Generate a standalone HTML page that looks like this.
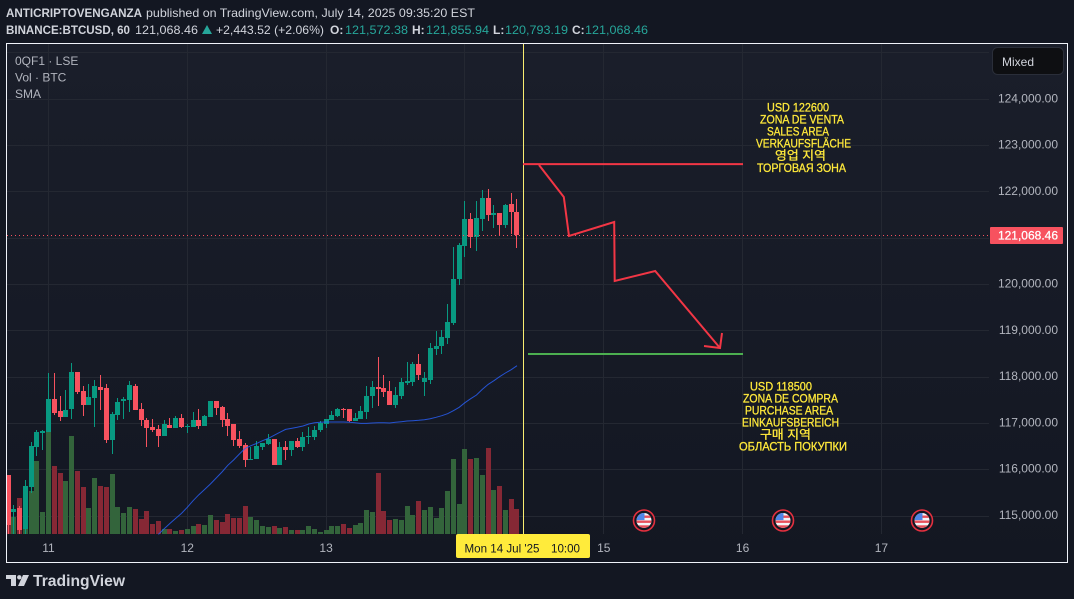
<!DOCTYPE html>
<html lang="en">
<head>
<meta charset="utf-8">
<title>BTCUSD chart</title>
<style>
html,body{margin:0;padding:0;background:#131722;width:1074px;height:599px;overflow:hidden}
svg{display:block}
text{font-family:"Liberation Sans","Noto Sans CJK KR",sans-serif;font-size:12px}
.hd{fill:#d1d4dc}
.tl{fill:#26a69a}
.lg{fill:#b2b5be}
.ann{fill:#ffe93b;stroke:#ffe93b;stroke-width:.3}
</style>
</head>
<body>
<svg id="chart" xmlns="http://www.w3.org/2000/svg" width="1074" height="599" viewBox="0 0 1074 599">
  <defs>
    <linearGradient id="paneBg" x1="0" y1="0" x2="0" y2="1">
      <stop offset="0" stop-color="#1a1e2a"/>
      <stop offset="1" stop-color="#131722"/>
    </linearGradient>
    <clipPath id="paneClip"><rect x="7" y="44" width="982" height="490"/></clipPath>
    <clipPath id="flagClip"><circle cx="0" cy="0" r="7.5"/></clipPath>
    <g id="flagIcon">
      <circle r="10.5" fill="#131722" stroke="#e5303f" stroke-width="1.6"/>
      <g clip-path="url(#flagClip)">
        <rect x="-8" y="-8" width="16" height="16" fill="#f4f5f8"/>
        <rect x="-8" y="-5" width="16" height="2.4" fill="#e8505b"/>
        <rect x="-8" y="0" width="16" height="2.4" fill="#e8505b"/>
        <rect x="-8" y="4.8" width="16" height="2.6" fill="#e8505b"/>
        <rect x="-8" y="-8" width="8.5" height="7.6" fill="#4f86e8"/>
      </g>
    </g>
  </defs>

  <rect x="0" y="0" width="1074" height="599" fill="#131722"/>

  <g>
    <text class="hd" x="6" y="17" font-weight="bold" textLength="136" lengthAdjust="spacingAndGlyphs">ANTICRIPTOVENGANZA</text>
    <text class="hd" x="146" y="17" textLength="329" lengthAdjust="spacingAndGlyphs">published on TradingView.com, July 14, 2025 09:35:20 EST</text>
  </g>
  <g>
    <text class="hd" x="6" y="34" font-weight="bold" textLength="124" lengthAdjust="spacingAndGlyphs">BINANCE:BTCUSD, 60</text>
    <text class="hd" x="135" y="34" textLength="63" lengthAdjust="spacingAndGlyphs">121,068.46</text>
    <polygon points="207,25 212,34 202,34" fill="#26a69a"/>
    <text class="hd" x="216" y="34" textLength="108" lengthAdjust="spacingAndGlyphs">+2,443.52 (+2.06%)</text>
    <text class="hd" x="330" y="34" font-weight="bold">O:</text>
    <text class="tl" x="345" y="34" textLength="63" lengthAdjust="spacingAndGlyphs">121,572.38</text>
    <text class="hd" x="412" y="34" font-weight="bold">H:</text>
    <text class="tl" x="426" y="34" textLength="63" lengthAdjust="spacingAndGlyphs">121,855.94</text>
    <text class="hd" x="493" y="34" font-weight="bold">L:</text>
    <text class="tl" x="505" y="34" textLength="63" lengthAdjust="spacingAndGlyphs">120,793.19</text>
    <text class="hd" x="572" y="34" font-weight="bold">C:</text>
    <text class="tl" x="585" y="34" textLength="63" lengthAdjust="spacingAndGlyphs">121,068.46</text>
  </g>

  <rect x="7" y="44" width="1060" height="518" fill="url(#paneBg)"/>
  <g id="grid"></g>
  <g id="volumes" clip-path="url(#paneClip)"></g>
  <g id="candles" clip-path="url(#paneClip)"></g>
  <path id="sma" fill="none" stroke="#2962ff" stroke-opacity="0.8" stroke-width="1" d=""/>
  <line id="lastLine" x1="7" x2="990" stroke="#f7525f" stroke-width="1" stroke-dasharray="1 3"/>
  <line x1="523.5" x2="523.5" y1="44" y2="534" stroke="#f8ec70" stroke-width="1"/>

  <g id="drawings"></g>

  <g>
    <text class="ann" x="767" y="111.5" textLength="62" lengthAdjust="spacingAndGlyphs">USD 122600</text>
    <text class="ann" x="760" y="123.5" textLength="84" lengthAdjust="spacingAndGlyphs">ZONA DE VENTA</text>
    <text class="ann" x="767" y="135.5" textLength="62" lengthAdjust="spacingAndGlyphs">SALES AREA</text>
    <text class="ann" x="756" y="147.5" textLength="95" lengthAdjust="spacingAndGlyphs">VERKAUFSFLÄCHE</text>
    <text class="ann" x="775" y="159.5" textLength="51" lengthAdjust="spacingAndGlyphs">영업 지역</text>
    <text class="ann" x="757" y="172" textLength="89" lengthAdjust="spacingAndGlyphs">ТОРГОВАЯ ЗОНА</text>
  </g>
  <g>
    <text class="ann" x="750" y="390.5" textLength="62" lengthAdjust="spacingAndGlyphs">USD 118500</text>
    <text class="ann" x="743" y="402.5" textLength="95" lengthAdjust="spacingAndGlyphs">ZONA DE COMPRA</text>
    <text class="ann" x="745" y="414.5" textLength="88" lengthAdjust="spacingAndGlyphs">PURCHASE AREA</text>
    <text class="ann" x="742" y="426.5" textLength="97" lengthAdjust="spacingAndGlyphs">EINKAUFSBEREICH</text>
    <text class="ann" x="760" y="438.5" textLength="51" lengthAdjust="spacingAndGlyphs">구매 지역</text>
    <text class="ann" x="739" y="450.5" textLength="108" lengthAdjust="spacingAndGlyphs">ОБЛАСТЬ ПОКУПКИ</text>
  </g>

  <use href="#flagIcon" x="644" y="520.5"/>
  <use href="#flagIcon" x="783" y="520.5"/>
  <use href="#flagIcon" x="922" y="520.5"/>

  <g>
    <text class="lg" x="15" y="65">0QF1 · LSE</text>
    <text class="lg" x="15" y="81.5">Vol · BTC</text>
    <text class="lg" x="15" y="98">SMA</text>
  </g>

  <g id="priceAxis"></g>
  <g id="timeAxis"></g>

  <g>
    <rect x="992.5" y="47.5" width="71" height="27" rx="5" fill="#0e0f12" stroke="#2a2e39"/>
    <text x="1002" y="66" fill="#d1d4dc">Mixed</text>
  </g>

  <g>
    <rect x="990" y="227" width="73" height="17" rx="1" fill="#f7525f"/>
    <text id="lastLabel" x="1058" y="239.5" text-anchor="end" fill="#ffffff" stroke="#ffffff" stroke-width="0.25">121,068.46</text>
  </g>

  <g>
    <rect x="456" y="534" width="134" height="24" rx="2" fill="#ffeb3b"/>
    <text x="464.5" y="552.5" fill="#131722" textLength="75" lengthAdjust="spacingAndGlyphs">Mon 14 Jul '25</text>
    <text x="551" y="552.5" fill="#131722" textLength="29" lengthAdjust="spacingAndGlyphs">10:00</text>
  </g>

  <rect x="6.5" y="43.5" width="1061" height="519" fill="none" stroke="#f0f3fa" stroke-width="1"/>

  <g>
    <path d="M6 575h10v11h-5v-7h-5z" fill="#d1d4dc"/>
    <circle cx="19.3" cy="577.3" r="2.2" fill="#d1d4dc"/>
    <path d="M23 575h6l-5 11h-6z" fill="#d1d4dc"/>
    <text x="33" y="586" fill="#d1d4dc" style="font-size:16px;font-weight:bold" textLength="92" lengthAdjust="spacingAndGlyphs">TradingView</text>
  </g>
</svg>

<script>
const opens = [115885,115086,115172,114719,115626,116490,116792,116814,117527,117267,
117138,117311,118110,117699,117397,117548,117786,117764,116641,117181,
117483,117505,117807,117311,117073,116922,116879,116727,116965,116900,
117116,116922,116922,117073,116943,117138,117483,117354,117095,116987,
116663,116533,116209,116231,116490,116555,116663,116101,116490,116425,
116619,116490,116706,116706,116857,116987,117073,117159,117311,117311,
117051,117095,117246,117591,117786,117764,117699,117397,117591,117872,
117894,118283,117894,117937,118607,118671,118844,119168,120119,120831,
121415,121026,121415,121868,121501,121544,121285,121739,121572];
const highs = [115885,115237,115215,115777,116598,116857,116857,118088,118088,117591,
117721,118304,118110,117807,117851,117937,118045,117851,117246,117548,
117570,117915,117851,117440,117116,117095,116965,117073,117116,117159,
117203,116987,117246,117311,117181,117483,117483,117375,117224,116987,
116835,116576,116490,116619,116576,116771,116663,116598,116619,116619,
116684,116814,116922,116943,117051,117095,117267,117332,117332,117311,
117224,117375,117807,117915,118434,118045,117915,117786,117980,118326,
118326,118499,118110,118736,118995,119017,119579,120810,120896,121803,
121544,121803,122041,122063,121717,121544,121739,121976,121856];
const lows = [114611,114611,114611,114611,115489,116295,116425,116814,117181,117051,
117138,117095,117635,117159,117397,116922,117289,116576,116339,117073,
117095,117246,117289,116943,116490,116814,116490,116727,116900,116900,
116900,116792,116922,116879,116943,117138,117181,116922,116727,116511,
116468,116058,116209,116231,116425,116533,116101,116101,116209,116295,
116468,116403,116555,116641,116814,116900,117073,117138,117116,117030,
117051,117095,117095,117332,117375,117570,117397,117332,117527,117829,
117807,117937,117591,117851,118477,118499,118715,119125,119989,120594,
120788,120723,121155,121371,121220,121069,121220,121091,120793];
const closes = [114805,115151,114697,115647,116511,116814,116835,117527,117224,117138,
117289,118110,117678,117397,117570,117807,117721,116641,117203,117462,
117527,117829,117289,117073,116900,116857,116727,116987,116900,117116,
116922,116943,117073,116943,117159,117483,117332,117073,116943,116641,
116511,116209,116231,116511,116576,116663,116101,116490,116425,116619,
116490,116706,116727,116857,117008,117095,117181,117311,117289,117051,
117116,117267,117591,117786,117743,117678,117397,117613,117894,117915,
118283,118045,117980,118628,118671,118866,119190,120119,120853,121415,
121026,121436,121868,121501,121544,121285,121717,121566,121068];
const volumes = [66,51,108,80,129,219,66,306,204,183,
159,294,189,141,78,168,144,141,180,81,
63,81,75,45,69,30,39,15,15,9,
12,15,24,30,27,57,42,36,60,48,
48,84,51,42,24,21,24,18,21,12,
12,12,24,15,6,12,24,24,30,18,
27,33,72,66,183,69,42,45,42,84,
57,99,72,81,48,78,129,225,90,255,
225,228,177,258,132,144,72,105,75];
const smaFirstBar = 26;
const smaValues = [114603,114726,114841,114949,115057,115187,115331,115460,115575,115691,
115820,115950,116094,116209,116339,116461,116519,116569,116627,116677,
116742,116807,116871,116893,116915,116943,116987,117015,117023,117030,
117030,117030,117030,117023,117015,117001,117001,117008,117015,117015,
117008,117023,117037,117051,117059,117066,117080,117102,117131,117167,
117210,117275,117347,117447,117534,117613,117735,117843,117923,118009,
118088,118160,118247];
const priceTicks = [124000,123000,122000,121000,120000,119000,118000,117000,116000,115000];
const extraGridPrices = [125000];
const dayBars = [7,31,55,79,103,127,151];
const dayLabels = ['11','12','13','14','15','16','17'];
const hiddenDayLabels = ['14'];
const lastPrice = 121068.46;
const sellLevel = 122600;
const buyLevel = 118500;
const zigzagBars = [91.8,96.1,97,104.8,104.9,111.9,123.1];
const zigzagPrices = [122581,121890,121047,121350,120075,120291,118628];

const NS = 'http://www.w3.org/2000/svg';
function yScale(p){ return 99.3 + (124000 - p) * 0.0463; }
function xScale(i){ return 8 + i * 5.784; }
function xPixel(i){ return Math.round(xScale(i) - 0.5); }
function volHeight(v){ return v / 3; }
function make(tag, attrs, parent){
  const el = document.createElementNS(NS, tag);
  for (const k in attrs) el.setAttribute(k, attrs[k]);
  parent.appendChild(el);
  return el;
}

const gridG = document.getElementById('grid');
priceTicks.concat(extraGridPrices).forEach(function(p){
  const y = Math.round(yScale(p) - 0.5) + 0.5;
  const el = make('line', {x1:7, x2:989, y1:y, y2:y, stroke:'#242832', 'stroke-width':1}, gridG);
  
  
});
dayBars.forEach(function(b){
  const x = xPixel(b) + 0.5;
  const el = make('line', {x1:x, x2:x, y1:44, y2:534, stroke:'#242832', 'stroke-width':1}, gridG);
  
  
});

const volG = document.getElementById('volumes');
volumes.forEach(function(v, i){
  const up = closes[i] >= opens[i];
  const h = Math.round(volHeight(v));
  const el = make('rect', {x:xPixel(i)-2, y:534-h, width:5, height:h, fill: up ? '#33643b' : '#862835', 'shape-rendering':'crispEdges'}, volG);
  
  
});

const candleG = document.getElementById('candles');
opens.forEach(function(o, i){
  const c = closes[i];
  const up = c >= o;
  const col = up ? '#089981' : '#f7525f';
  const px = xPixel(i);
  const g = make('g', {}, candleG);
  
  
  const yH = Math.round(yScale(highs[i]));
  const yL = Math.round(yScale(lows[i]));
  const yT = Math.round(yScale(Math.max(o, c)));
  const yB = Math.round(yScale(Math.min(o, c)));
  make('rect', {x:px, y:yH, width:1, height:Math.max(1, yL-yH), fill:col, 'shape-rendering':'crispEdges'}, g);
  make('rect', {x:px-2, y:yT, width:5, height:Math.max(1, yB-yT), fill:col, 'shape-rendering':'crispEdges'}, g);
});

document.getElementById('sma').setAttribute('d', smaValues.map(function(v, k){
  return (k ? 'L' : 'M') + xScale(smaFirstBar + k).toFixed(1) + ' ' + yScale(v).toFixed(1);
}).join(' '));

const lastLine = document.getElementById('lastLine');
lastLine.setAttribute('y1', Math.round(yScale(lastPrice)) + 0.5);
lastLine.setAttribute('y2', Math.round(yScale(lastPrice)) + 0.5);

const drawG = document.getElementById('drawings');
const sellY = yScale(sellLevel);
const sellLine = make('line', {x1:523, x2:743, y1:sellY, y2:sellY, stroke:'#f23645', 'stroke-width':2}, drawG);


const buyY = yScale(buyLevel);
const buyLine = make('line', {x1:528, x2:743, y1:buyY, y2:buyY, stroke:'#4caf50', 'stroke-width':2}, drawG);


const zigzagPts = zigzagBars.map(function(b, k){ return xScale(b).toFixed(1) + ',' + yScale(zigzagPrices[k]).toFixed(1); });
const zigzag = make('polyline', {points:zigzagPts.join(' '), fill:'none', stroke:'#f23645', 'stroke-width':2, 'stroke-linejoin':'miter'}, drawG);


const tipX = xScale(zigzagBars[zigzagBars.length-1]);
const tipY = yScale(zigzagPrices[zigzagPrices.length-1]);
const head = make('path', {d:'M'+(tipX+2)+' '+(tipY-15)+' L'+tipX+' '+tipY+' L'+(tipX-16)+' '+(tipY-2), fill:'none', stroke:'#f23645', 'stroke-width':2}, drawG);



const priceG = document.getElementById('priceAxis');
priceTicks.forEach(function(p){
  const t = make('text', {x:1058, y:(yScale(p)+3).toFixed(1), 'text-anchor':'end', fill:'#b2b5be'}, priceG);
  t.textContent = p.toLocaleString('en-US', {minimumFractionDigits:2, maximumFractionDigits:2});
  
  
});

const timeG = document.getElementById('timeAxis');
dayLabels.forEach(function(lab, k){
  if (hiddenDayLabels.indexOf(lab) >= 0) return;
  const t = make('text', {x:xScale(dayBars[k]).toFixed(1), y:552, 'text-anchor':'middle', fill:'#b2b5be'}, timeG);
  t.textContent = lab;
  
  
});
</script>
</body>
</html>
